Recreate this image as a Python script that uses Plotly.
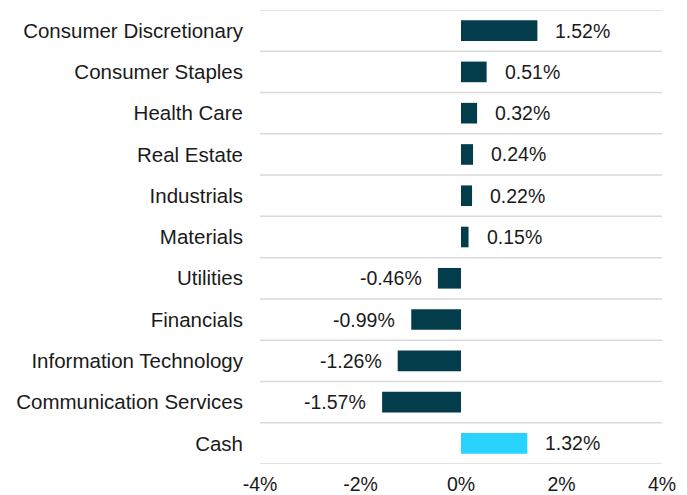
import plotly.graph_objects as go

categories = ["Consumer Discretionary", "Consumer Staples", "Health Care", "Real Estate",
              "Industrials", "Materials", "Utilities", "Financials",
              "Information Technology", "Communication Services", "Cash"]
values = [1.52, 0.51, 0.32, 0.24, 0.22, 0.15, -0.46, -0.99, -1.26, -1.57, 1.32]
dark = "#033D4C"
light = "#29D3FF"
colors = [light if c == "Cash" else dark for c in categories]
x_ticks = [-4, -2, 0, 2, 4]

FONT = "Liberation Sans, Arial"
TXT = "#1a1a1a"

fig = go.Figure()
fig.add_trace(go.Bar(
    x=values, y=categories, orientation="h", width=0.5,
    marker=dict(color=colors, line=dict(width=0)),
    hoverinfo="skip",
))

for c, v in zip(categories, values):
    fig.add_annotation(
        x=v, y=c, text=f"{v:.2f}%", showarrow=False,
        xanchor="left" if v >= 0 else "right",
        xshift=16 if v >= 0 else -14,
        font=dict(size=19.5, color=TXT, family=FONT),
    )

n = len(categories)
for i in range(n + 1):
    fig.add_shape(type="line", xref="paper", yref="y", x0=0, x1=1,
                  y0=i - 0.5, y1=i - 0.5, line=dict(color="#d9d9d9", width=1.5),
                  layer="below")

fig.update_layout(
    width=679, height=487,
    margin=dict(l=252, r=25, t=2, b=31),
    plot_bgcolor="white", paper_bgcolor="white",
    showlegend=False,
    font=dict(family=FONT, size=19.5, color=TXT),
    xaxis=dict(range=[-4, 4], tickvals=x_ticks, ticktext=[f"{t}%" for t in x_ticks],
               showgrid=False, zeroline=False, showline=False, ticks="",
               ticklabelstandoff=6, automargin=False,
               tickfont=dict(size=19.5), fixedrange=True),
    yaxis=dict(range=[n - 0.5, -0.5], showgrid=False, zeroline=False, ticks="",
               ticklabelstandoff=16, automargin=False,
               tickfont=dict(size=20.5), fixedrange=True),
)

fig.write_html("out.html")
